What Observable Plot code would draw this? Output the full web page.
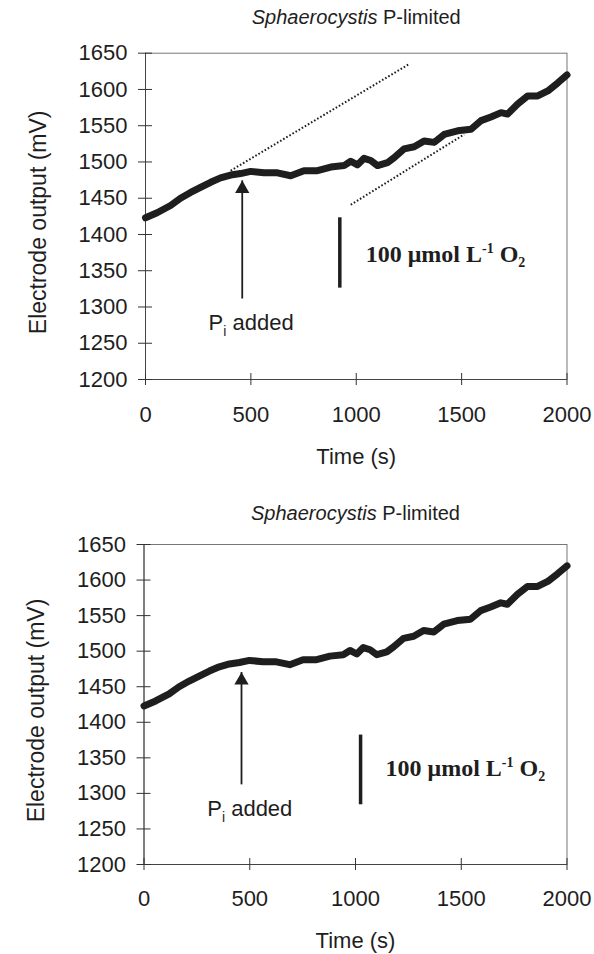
<!DOCTYPE html>
<html><head><meta charset="utf-8">
<script src="https://cdn.jsdelivr.net/npm/d3@7"></script>
<script src="https://cdn.jsdelivr.net/npm/@observablehq/plot@0.6"></script>
<style>
html,body{margin:0;padding:0;background:#fff;}
#chart svg{display:block;}
</style></head><body><div id="chart"></div>
<script>
// ---- data ----
const timeS = [0, 55, 119, 166, 214, 261, 309, 356, 404, 451, 499, 562, 626, 689, 752, 816, 879, 942, 974, 1006, 1037, 1069, 1101, 1148, 1180, 1227, 1275, 1322, 1370, 1417, 1481, 1544, 1592, 1639, 1687, 1718, 1766, 1813, 1861, 1909, 1956, 2000];
const outputMV = [1423, 1430, 1440, 1450, 1458, 1465, 1472, 1478, 1482, 1484, 1487, 1485, 1485, 1481, 1488, 1488, 1493, 1495, 1501, 1496, 1505, 1502, 1495, 1499, 1506, 1518, 1521, 1529, 1527, 1538, 1543, 1545, 1557, 1562, 1568, 1566, 1580, 1591, 1591, 1598, 1609, 1620];
const xTicks = [0, 500, 1000, 1500, 2000];
const yTicks = [1200, 1250, 1300, 1350, 1400, 1450, 1500, 1550, 1600, 1650];
const xDomain = [0, 2000];
const yDomain = [1200, 1650];
const chartTitle = "Sphaerocystis P-limited";
const xTitle = "Time (s)";
const yTitle = "Electrode output (mV)";
const arrowText = "Pi added";
const barText = "100 \u03bcmol L-1 O2";

// annotations (data units)
const slopeLines = [
  {x1: 404, y1: 1488, x2: 1251, y2: 1635},
  {x1: 974, y1: 1441, x2: 1512, y2: 1538}
];
const arrowTop = [{x: 459, y1: 1311, y2: 1474}];
const arrowBottom = [{x: 461, y1: 1312, y2: 1470}];
const barTop = [{x: 922, y1: 1326, y2: 1423}];
const barBottom = [{x: 1024, y1: 1284, y2: 1382}];
const arrowLabelPos = [{x: 299, y: 1278}];
const barLabelTop = [{x: 1045, y: 1372}];
const barLabelBottom = [{x: 1142, y: 1335}];

const series = timeS.map((t, i) => ({t, v: outputMV[i]}));
const ink = "#1e1e1e";
const fmt = d3.format("d");

function makeChart(o) {
  const marks = [
    Plot.frame({stroke: "#777", strokeWidth: 1}),
    Plot.ruleY([yDomain[0]], {stroke: "#444"}),
    Plot.ruleX([xDomain[0]], {stroke: "#444"}),
    Plot.ruleX(xTicks, {y1: yDomain[0], y2: yDomain[0], insetTop: -6, insetBottom: -6, stroke: "#333"}),
    Plot.ruleY(yTicks, {x1: xDomain[0], x2: xDomain[0], insetLeft: -7, insetRight: -7, stroke: "#333"}),
    Plot.axisX(xTicks, {tickSize: 0, tickPadding: o.xPad, fontSize: 22, label: null, lineAnchor: "top", tickFormat: fmt}),
    Plot.axisY(yTicks, {tickSize: 0, tickPadding: 18, fontSize: 22, label: null, tickFormat: fmt}),
  ];
  if (o.slopes) marks.push(Plot.link(o.slopes, {x1: "x1", y1: "y1", x2: "x2", y2: "y2", stroke: ink, strokeWidth: 2, strokeDasharray: "1.6,2"}));
  marks.push(
    Plot.line(series, {x: "t", y: "v", stroke: ink, strokeWidth: 7, strokeLinejoin: "round", strokeLinecap: "round"}),
    Plot.ruleX(o.arrow, {x: "x", y1: "y1", y2: "y2", stroke: ink, strokeWidth: 1.8}),
    Plot.dot(o.arrow, {x: "x", y: "y2", symbol: "triangle", r: 5.3, fill: ink, stroke: null, dy: 8}),
    Plot.ruleX(o.bar, {x: "x", y1: "y1", y2: "y2", stroke: ink, strokeWidth: 3.5}),
    Plot.text(arrowLabelPos, {x: "x", y: "y", text: () => arrowText, textAnchor: "start", fontSize: 22, fill: ink}),
    Plot.text(o.barLabel, {x: "x", y: "y", text: () => barText, textAnchor: "start", fontSize: 24, fontWeight: "bold", fontFamily: "'Liberation Serif', 'Times New Roman', serif", fill: ink}),
    Plot.text([yTitle], {frameAnchor: "left", textAnchor: "middle", dx: -107, dy: o.yTitleDy, rotate: -90, fontSize: 23, fill: ink}),
    Plot.text([xTitle], {frameAnchor: "bottom", textAnchor: "middle", dy: o.xTitleDy, lineAnchor: "top", fontSize: 22, fill: ink}),
    Plot.text([chartTitle], {frameAnchor: "top", textAnchor: "middle", dy: o.titleDy, lineAnchor: "top", fontSize: 20, fill: ink})
  );
  const svg = Plot.plot({
    width: 594, height: 477,
    marginTop: o.mt, marginBottom: o.mb, marginLeft: o.ml, marginRight: 27.5,
    style: {fontFamily: "'Liberation Sans', Arial, sans-serif", fontSize: "22px", color: ink, background: "#fff", overflow: "visible"},
    x: {domain: xDomain},
    y: {domain: yDomain},
    marks
  });
  // rich text: italics, sub/superscripts
  const sel = d3.select(svg).selectAll("text");
  sel.filter(function() { return this.textContent === arrowText; }).each(function() {
    const t = d3.select(this); t.text(null);
    t.append("tspan").text("P");
    t.append("tspan").attr("font-size", 14).attr("dy", 6).text("i");
    t.append("tspan").attr("dy", -6).text(" added");
  });
  sel.filter(function() { return this.textContent === barText; }).each(function() {
    const t = d3.select(this); t.text(null);
    t.append("tspan").text("100 \u03bcmol L");
    t.append("tspan").attr("font-size", 14).attr("dy", -9).text("-1");
    t.append("tspan").attr("dy", 9).text(" O");
    t.append("tspan").attr("font-size", 14).attr("dy", 5).text("2");
  });
  sel.filter(function() { return this.textContent === chartTitle; }).each(function() {
    const t = d3.select(this); t.text(null);
    t.append("tspan").attr("font-style", "italic").text("Sphaerocystis");
    t.append("tspan").text(" P-limited");
  });
  return svg;
}

const root = document.getElementById("chart");
root.appendChild(makeChart({mt: 52.7, mb: 98, ml: 145, xPad: 27, xTitleDy: 69, yTitleDy: 6, titleDy: -43.5, slopes: slopeLines, arrow: arrowTop, bar: barTop, barLabel: barLabelTop}));
root.appendChild(makeChart({mt: 67, mb: 90, ml: 143.5, xPad: 26, xTitleDy: 67.5, yTitleDy: 6, titleDy: -39, slopes: null, arrow: arrowBottom, bar: barBottom, barLabel: barLabelBottom}));
</script></body></html>
